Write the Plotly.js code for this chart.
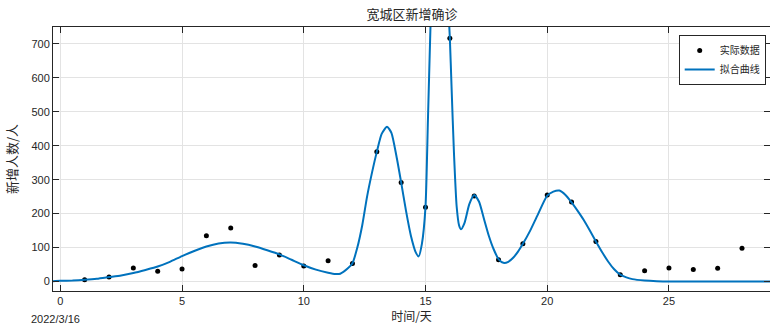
<!DOCTYPE html>
<html>
<head>
<meta charset="utf-8">
<script src="https://cdn.plot.ly/plotly-3.0.1.min.js"></script>
<style>
  html, body { margin: 0; padding: 0; background: #ffffff; }
  #chart { width: 770px; height: 327px; }
</style>
</head>
<body>
<div id="chart"></div>
<script>
// Daily new confirmed cases, day index counted from 2022/3/16
const dayIdx = [1, 2, 3, 4, 5, 6, 7, 8, 9, 10, 11, 12, 13, 14,
                15, 16, 17, 18, 19, 20, 21, 22, 23, 24, 25, 26, 27, 28];
const newCases = [5, 13, 40, 30, 37, 135, 158, 47, 78, 46, 61, 53, 382, 292,
                  219, 717, 252, 64, 111, 255, 234, 118, 20, 32, 40, 35, 39, 98];

// Fitted curve, sampled along the time axis
const fitDay = [-0.3, 0, 0.5, 1, 1.5, 2, 2.5, 3, 3.5, 4, 4.5, 5, 5.5, 6, 6.5, 7,
                7.5, 8, 8.5, 9, 9.5, 10, 10.5, 11, 11.3, 11.5, 11.8, 12, 12.2,
                12.4, 12.6, 12.8, 13.0, 13.2, 13.42, 13.6, 13.8, 14.0, 14.2,
                14.4, 14.6, 14.72, 14.85, 15.0, 15.1, 15.2, 15.3, 15.45, 15.6,
                15.75, 15.9, 15.95, 16.0, 16.07, 16.17, 16.28, 16.38, 16.46,
                16.6, 16.8, 17.0, 17.2, 17.4, 17.6, 17.8, 18.0, 18.2, 18.4,
                18.6, 18.8, 19.0, 19.3, 19.6, 20.0, 20.25, 20.5, 20.75, 21.0,
                21.25, 21.5, 21.75, 22.0, 22.25, 22.5, 22.75, 23.0, 23.25, 23.5,
                24.0, 24.5, 25, 26, 27, 28, 29.4];
const fitCases = [1, 2, 3, 5, 8, 13, 18, 25, 34, 44, 58, 75, 90, 103, 112, 115,
                  111, 103, 92, 80, 64, 48, 35, 26, 22, 23, 38, 54, 100,
                  165, 250, 320, 382, 435, 456, 438, 372, 292, 208,
                  135, 86, 74, 110, 220, 476, 740, 960, 1200, 1280,
                  1200, 880, 790, 717, 574, 377, 221, 165, 154,
                  172, 228, 255, 235, 185, 135, 95, 66, 55, 58,
                  70, 88, 111, 150, 195, 253, 265, 268, 255, 233,
                  208, 181, 150, 118, 87, 59, 36, 20, 12, 7,
                  3, 1, 0, 0, 0, 0, 0];

const xTicks = [0, 5, 10, 15, 20, 25];
const yTicks = [0, 100, 200, 300, 400, 500, 600, 700];
const startDate = '2022/3/16';

const axisColor = '#262626';
const gridColor = '#e3e3e3';
const numFont = { family: 'Liberation Sans, Arial, sans-serif', size: 11, color: axisColor };
const cjkFont = 'Noto Sans CJK SC, sans-serif';

const traces = [
  {
    x: dayIdx, y: newCases, type: 'scatter', mode: 'markers', name: '实际数据',
    marker: { color: '#000000', size: 5 }
  },
  {
    x: fitDay, y: fitCases, type: 'scatter', mode: 'lines', name: '拟合曲线',
    line: { color: '#0072BD', width: 2, shape: 'spline', smoothing: 0.6 }
  }
];

const layout = {
  width: 770, height: 327,
  margin: { l: 53, r: 0, t: 27, b: 36 },
  paper_bgcolor: '#ffffff', plot_bgcolor: '#ffffff',
  showlegend: true,
  title: {
    text: '宽城区新增确诊', font: { family: cjkFont, size: 13, color: axisColor },
    x: 0.535, xanchor: 'center', y: 0.955, yanchor: 'middle'
  },
  xaxis: {
    range: [-0.3, 29.15], tickvals: xTicks, ticktext: xTicks.map(String),
    showgrid: true, gridcolor: gridColor, gridwidth: 1, zeroline: false,
    showline: true, linecolor: axisColor, linewidth: 1, mirror: 'ticks',
    ticks: 'inside', ticklen: 6, tickcolor: axisColor, tickfont: numFont,
    title: { text: '时间/天', font: { family: cjkFont, size: 12, color: axisColor }, standoff: 4 }
  },
  yaxis: {
    range: [-28, 750], tickvals: yTicks, ticktext: yTicks.map(String),
    showgrid: true, gridcolor: gridColor, gridwidth: 1, zeroline: false,
    showline: true, linecolor: axisColor, linewidth: 1, mirror: 'ticks',
    ticks: 'inside', ticklen: 6, tickcolor: axisColor, tickfont: numFont,
    title: { text: '新增人数/人', font: { family: cjkFont, size: 13, color: axisColor }, standoff: 10 }
  },
  legend: {
    x: 0.994, xanchor: 'right', y: 0.97, yanchor: 'top',
    bgcolor: '#ffffff', bordercolor: axisColor, borderwidth: 1,
    font: { family: cjkFont, size: 10, color: axisColor },
    tracegroupgap: 0
  },
  annotations: [
    {
      text: startDate, xref: 'x', yref: 'paper', x: -0.2, y: -0.106,
      xanchor: 'center', yanchor: 'middle', showarrow: false,
      font: numFont
    }
  ]
};

Plotly.newPlot('chart', traces, layout, { staticPlot: true, displayModeBar: false });
</script>
</body>
</html>
